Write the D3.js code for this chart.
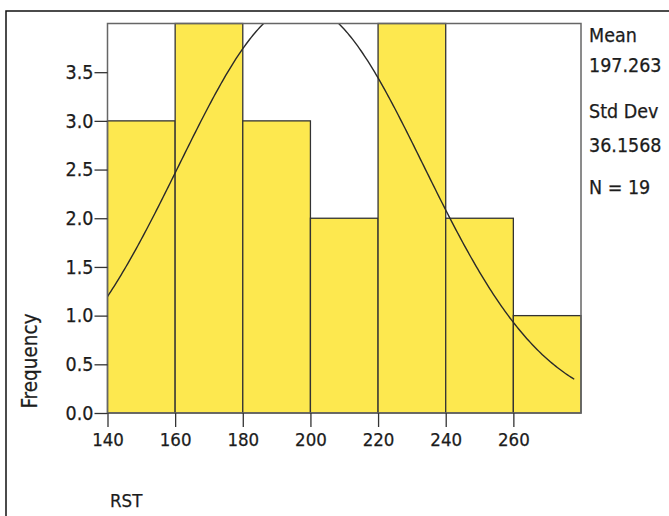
<!DOCTYPE html>
<html lang="en">
<head>
<meta charset="utf-8">
<title>RST histogram</title>
<script src="https://d3js.org/d3.v7.min.js"></script>
<style>
  body { margin: 0; background: #fff; }
  svg text { font-family: "DejaVu Sans Condensed", "DejaVu Sans", sans-serif; fill: #1c1c1c; stroke: #1c1c1c; stroke-width: 0.25px; }
</style>
</head>
<body>
<svg id="chart" width="669" height="516"></svg>
<script>
  // histogram data
  const binEdges = [140, 160, 180, 200, 220, 240, 260, 280];
  const counts = [3, 4, 3, 2, 4, 2, 1];
  const xTicks = [140, 160, 180, 200, 220, 240, 260];
  const yTicks = [0, 0.5, 1, 1.5, 2, 2.5, 3, 3.5];
  const mean = 197.263, stdDev = 36.1568, n = 19;
  const statLines = ["Mean", "197.263", "Std Dev", "36.1568", "N = 19"];

  const svg = d3.select("#chart");

  // outer frame
  svg.append("rect")
    .attr("x", 6).attr("y", 11).attr("width", 700).attr("height", 520)
    .attr("fill", "none").attr("stroke", "#111").attr("stroke-width", 1.5);

  const x = d3.scaleLinear().domain([140, 280]).range([107.5, 581]);
  const y = d3.scaleLinear().domain([0, 4]).range([413, 23.5]);

  svg.append("clipPath").attr("id", "plotClip")
    .append("rect")
    .attr("x", x(140)).attr("y", y(4))
    .attr("width", x(280) - x(140)).attr("height", y(0) - y(4));

  const bins = counts.map((c, i) => ({ x0: binEdges[i], x1: binEdges[i + 1], c: c }));

  svg.append("g").selectAll("rect")
    .data(bins).enter().append("rect")
    .attr("x", d => x(d.x0))
    .attr("y", d => y(d.c))
    .attr("width", d => x(d.x1) - x(d.x0))
    .attr("height", d => y(0) - y(d.c))
    .attr("fill", "#fde84f")
    .attr("stroke", "#333")
    .attr("stroke-width", 1.3);

  // fitted normal curve, scaled to counts
  const scale = n * (binEdges[1] - binEdges[0]);
  const pdf = v => scale * Math.exp(-0.5 * Math.pow((v - mean) / stdDev, 2)) / (stdDev * Math.sqrt(2 * Math.PI));
  const curveX = d3.range(140, 278.01, 0.5);
  svg.append("path")
    .datum(curveX)
    .attr("clip-path", "url(#plotClip)")
    .attr("fill", "none")
    .attr("stroke", "#2a2a2a")
    .attr("stroke-width", 1.4)
    .attr("d", d3.line().x(d => x(d)).y(d => y(pdf(d))));

  // plot frame
  svg.append("rect")
    .attr("x", x(140)).attr("y", y(4))
    .attr("width", x(280) - x(140)).attr("height", y(0) - y(4))
    .attr("fill", "none").attr("stroke", "#666").attr("stroke-width", 1.5);

  const yAxis = svg.append("g")
    .attr("transform", `translate(${x(140)},0)`)
    .call(d3.axisLeft(y).tickValues(yTicks).tickFormat(d3.format(".1f")).tickSize(13).tickSizeOuter(0).tickPadding(1));
  const xAxis = svg.append("g")
    .attr("transform", `translate(0,${y(0)})`)
    .call(d3.axisBottom(x).tickValues(xTicks).tickSize(14).tickSizeOuter(0).tickPadding(6));

  [yAxis, xAxis].forEach(a => {
    a.select(".domain").remove();
    a.selectAll(".tick line").attr("stroke", "#333").attr("stroke-width", 1.3);
    a.selectAll(".tick text").style("font-size", "18.5px");
  });
  yAxis.selectAll(".tick text").style("font-size", "19.5px");

  svg.append("text")
    .attr("x", 110).attr("y", 507)
    .style("font-size", "18.5px")
    .text("RST");

  svg.append("text")
    .attr("transform", "translate(37,361) rotate(-90)")
    .attr("text-anchor", "middle")
    .style("font-size", "20.5px")
    .text("Frequency");

  const statY = [42, 72, 118, 152, 194];
  svg.append("g").selectAll("text")
    .data(statLines).enter().append("text")
    .attr("x", 589)
    .attr("y", (d, i) => statY[i])
    .style("font-size", "19.5px")
    .text(d => d);
</script>
</body>
</html>
